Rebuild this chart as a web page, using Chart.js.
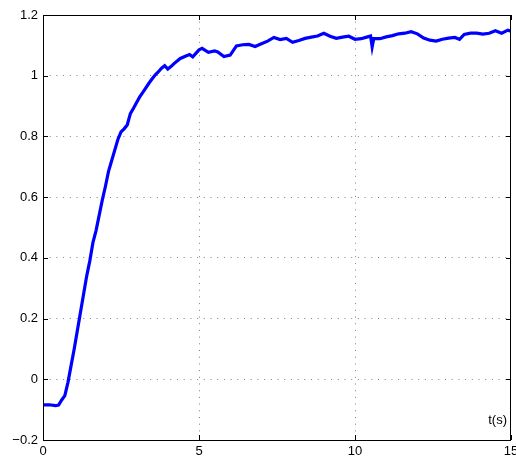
<!DOCTYPE html>
<html>
<head>
<meta charset="utf-8">
<script src="https://cdn.jsdelivr.net/npm/chart.js@4/dist/chart.umd.min.js"></script>
<style>
  html, body { margin: 0; padding: 0; background: #fff; overflow: hidden; }
  #wrap { width: 516px; height: 459px; }
</style>
</head>
<body>
<div id="wrap"><canvas id="c"></canvas></div>
<script>
const tValues = [
    0, 0.2, 0.4, 0.5, 0.6, 0.7, 0.8, 0.9, 1.0, 1.1, 1.2, 1.3, 1.4, 1.5, 1.6, 1.7, 1.8, 1.9,
    2.0, 2.1, 2.2, 2.3, 2.4, 2.5, 2.6, 2.7, 2.8, 2.9, 3.0, 3.1, 3.2, 3.4, 3.5, 3.6, 3.7, 3.8,
    3.9, 4.0, 4.1, 4.2, 4.4, 4.6, 4.7, 4.8, 5.0, 5.1, 5.3, 5.5, 5.6, 5.8, 6.0, 6.2, 6.4, 6.6,
    6.8, 7.0, 7.2, 7.4, 7.6, 7.8, 8.0, 8.2, 8.4, 8.6, 8.8, 9.0, 9.2, 9.4, 9.6, 9.8, 10.0,
    10.2, 10.4, 10.5, 10.55, 10.6, 10.8, 11.0, 11.2, 11.4, 11.6, 11.8, 12.0, 12.2, 12.4,
    12.6, 12.8, 13.0, 13.2, 13.35, 13.5, 13.7, 13.9, 14.1, 14.3, 14.5, 14.7, 14.9, 15.0
];
const yValues = [
    -0.084, -0.084, -0.087, -0.085, -0.068, -0.054, -0.01, 0.045, 0.10, 0.16, 0.22, 0.28, 0.34, 0.39, 0.45, 0.49, 0.54, 0.59,
    0.635, 0.685, 0.72, 0.755, 0.79, 0.815, 0.825, 0.838, 0.875, 0.893, 0.912, 0.93, 0.945, 0.976, 0.99, 1.003, 1.013, 1.025,
    1.033, 1.022, 1.03, 1.04, 1.057, 1.066, 1.07, 1.062, 1.085, 1.09, 1.077, 1.082, 1.078, 1.063, 1.068, 1.098, 1.102, 1.103,
    1.096, 1.105, 1.114, 1.126, 1.119, 1.123, 1.11, 1.116, 1.123, 1.127, 1.131, 1.14, 1.13, 1.123, 1.127, 1.13, 1.12,
    1.122, 1.128, 1.131, 1.095, 1.122, 1.122, 1.128, 1.132, 1.138, 1.14, 1.145, 1.138, 1.124, 1.117,
    1.114, 1.12, 1.124, 1.126, 1.12, 1.136, 1.14, 1.14, 1.137, 1.14, 1.148, 1.14, 1.15, 1.147
];
const xTickValues = [0, 5, 10, 15];
const yTickValues = [-0.2, 0, 0.2, 0.4, 0.6, 0.8, 1, 1.2];
const yTickLabels = ['\u22120.2', '0', '0.2', '0.4', '0.6', '0.8', '1', '1.2'];
const xLabel = 't(s)';

const FONT = { family: 'Liberation Sans, Arial, sans-serif', size: 13 };

// box around the plot with small inward ticks on every side, plus the axis label
const matlabFrame = {
    id: 'matlabFrame',
    afterDatasetsDraw(chart) {
        const { ctx, chartArea: a, scales } = chart;
        ctx.save();
        ctx.strokeStyle = '#000';
        ctx.lineWidth = 1;
        ctx.strokeRect(a.left + 0.5, a.top + 0.5, a.right - a.left - 1, a.bottom - a.top);
        ctx.beginPath();
        xTickValues.forEach(v => {
            const px = Math.round(scales.x.getPixelForValue(v)) + 0.5;
            ctx.moveTo(px, a.bottom); ctx.lineTo(px, a.bottom - 5);
            ctx.moveTo(px, a.top); ctx.lineTo(px, a.top + 5);
        });
        yTickValues.forEach(v => {
            const py = Math.round(scales.y.getPixelForValue(v)) + 0.5;
            ctx.moveTo(a.left, py); ctx.lineTo(a.left + 5, py);
            ctx.moveTo(a.right, py); ctx.lineTo(a.right - 5, py);
        });
        ctx.stroke();
        ctx.fillStyle = '#000';
        ctx.font = FONT.size + 'px ' + FONT.family;
        ctx.textAlign = 'right';
        ctx.textBaseline = 'middle';
        ctx.fillText(xLabel, a.right - 4, a.bottom - 20);
        ctx.restore();
    }
};

new Chart(document.getElementById('c'), {
    type: 'line',
    data: {
        datasets: [{
            data: tValues.map((t, i) => ({ x: t, y: yValues[i] })),
            borderColor: '#0000ff',
            borderWidth: 3.2,
            pointRadius: 0,
            tension: 0,
            fill: false
        }]
    },
    options: {
        responsive: true,
        maintainAspectRatio: false,
        animation: false,
        layout: { padding: { top: 15, right: 5, left: 0, bottom: 0 } },
        plugins: { legend: { display: false }, tooltip: { enabled: false } },
        scales: {
            x: {
                type: 'linear',
                min: 0,
                max: 15,
                afterBuildTicks: s => { s.ticks = xTickValues.map(v => ({ value: v })); },
                afterFit: s => { s.paddingRight = 0; s.paddingLeft = 0; s.height = 19; },
                ticks: { color: '#000', font: FONT, padding: 4, maxRotation: 0 },
                grid: {
                    drawTicks: false,
                    color: ctx => (ctx.tick && (ctx.tick.value === 0 || ctx.tick.value === 15)) ? 'rgba(0,0,0,0)' : 'rgba(0,0,0,0.5)'
                },
                border: { display: false, dash: [1, 5.7] }
            },
            y: {
                type: 'linear',
                min: -0.2,
                max: 1.2,
                afterBuildTicks: s => { s.ticks = yTickValues.map(v => ({ value: v })); },
                afterFit: s => { s.paddingTop = 0; s.paddingBottom = 0; s.width = 43; },
                ticks: {
                    color: '#000',
                    font: FONT,
                    padding: 5,
                    callback: (v, i) => yTickLabels[i]
                },
                grid: {
                    drawTicks: false,
                    color: ctx => (ctx.tick && (Math.abs(ctx.tick.value + 0.2) < 1e-6 || Math.abs(ctx.tick.value - 1.2) < 1e-6)) ? 'rgba(0,0,0,0)' : 'rgba(0,0,0,0.5)'
                },
                border: { display: false, dash: [1, 5.7] }
            }
        }
    },
    plugins: [matlabFrame]
});
</script>
</body>
</html>
